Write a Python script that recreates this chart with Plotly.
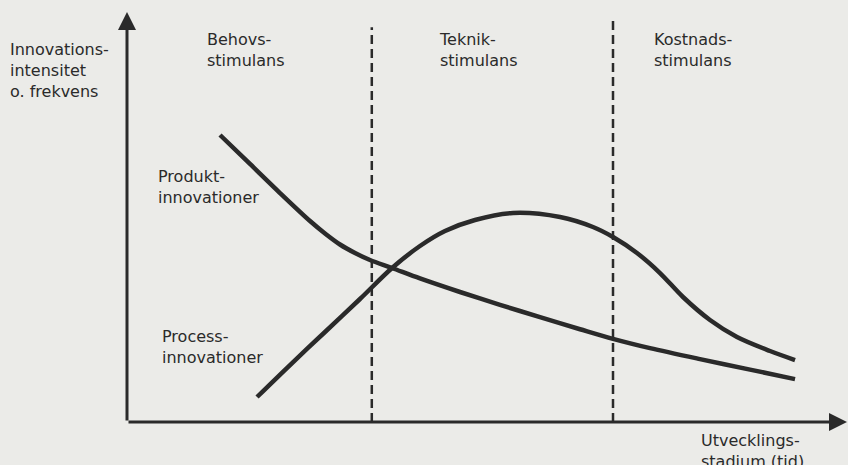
import plotly.graph_objects as go

# ---- data (abstract units: development stage 0-100, intensity 0-100) ----
produkt_x = [12.92, 17.08, 21.25, 25.42, 27.5, 29.58, 31.67, 33.75, 36.81, 40.69, 46.25,
             51.81, 57.36, 62.92, 67.5, 72.64, 79.58, 86.53, 92.78]
produkt_y = [70.0, 62.93, 55.85, 49.02, 45.98, 43.29, 41.22, 39.51, 37.56, 35.02, 31.71,
             28.59, 25.56, 22.63, 20.29, 18.02, 15.34, 12.78, 10.46]

process_x = [18.06, 22.64, 27.5, 32.36, 36.81, 40.69, 44.17, 48.33, 53.61, 60.14, 64.72,
             67.5, 70.83, 74.03, 77.22, 80.97, 84.72, 89.31, 92.78]
process_y = [6.10, 13.90, 21.95, 30.0, 37.56, 42.93, 46.59, 49.27, 50.98, 50.0, 47.56,
             45.12, 41.22, 36.34, 30.49, 24.88, 20.73, 17.32, 15.12]

phase_bounds = [34.0, 67.5]
phase_tops = [96.3, 98.0]

phase_labels = ["Behovs-<br>stimulans", "Teknik-<br>stimulans", "Kostnads-<br>stimulans"]
y_title = "Innovations-<br>intensitet<br>o. frekvens"
x_title = "Utvecklings-<br>stadium (tid)"
curve_labels = ["Produkt-<br>innovationer", "Process-<br>innovationer"]

# ---- layout geometry (pixels) ----
W, H = 848, 465
L, R, T, B = 127, 1, 12, 43
PW, PH = W - L - R, H - T - B


def px(xp):
    return (xp - L) / PW


def py(yp):
    return (H - B - yp) / PH


INK = "#2a2a2a"
BG = "#ebebe8"
FONT = "DejaVu Sans"

fig = go.Figure()

for xb, yt in zip(phase_bounds, phase_tops):
    fig.add_trace(go.Scatter(x=[xb, xb], y=[0, yt], mode="lines",
                             line=dict(color=INK, width=2.5, dash="9px,5px"),
                             hoverinfo="skip", showlegend=False))

fig.add_trace(go.Scatter(x=produkt_x, y=produkt_y, mode="lines",
                         line=dict(color=INK, width=4.5, shape="spline", smoothing=0.9),
                         showlegend=False))
fig.add_trace(go.Scatter(x=process_x, y=process_y, mode="lines",
                         line=dict(color=INK, width=4.5, shape="spline", smoothing=0.9),
                         showlegend=False))

annotations = []
# axes with arrowheads
annotations.append(dict(x=0, y=100, ax=0, ay=0, xref="x", yref="y", axref="x", ayref="y",
                        text="", showarrow=True, arrowhead=2, arrowsize=1.2, arrowwidth=3,
                        arrowcolor=INK, standoff=0, startstandoff=0))
annotations.append(dict(x=100, y=0, ax=0, ay=0, xref="x", yref="y", axref="x", ayref="y",
                        text="", showarrow=True, arrowhead=2, arrowsize=1.2, arrowwidth=3,
                        arrowcolor=INK, standoff=0, startstandoff=0))


def label(text, xp, yp):
    annotations.append(dict(x=px(xp), y=py(yp), xref="paper", yref="paper", text=text,
                            showarrow=False, xanchor="left", yanchor="middle", align="left",
                            font=dict(family=FONT, size=16, color=INK)))


label(y_title, 8, 70)
label(phase_labels[0], 205, 50)
label(phase_labels[1], 437, 50)
label(phase_labels[2], 652, 50)
label(curve_labels[0], 156, 187)
label(curve_labels[1], 160, 347)
label(x_title, 699, 451)

fig.update_layout(
    width=W, height=H,
    margin=dict(l=L, r=R, t=T, b=B, pad=0),
    paper_bgcolor=BG, plot_bgcolor=BG,
    xaxis=dict(range=[0, 100], visible=False, fixedrange=True),
    yaxis=dict(range=[0, 100], visible=False, fixedrange=True),
    annotations=annotations,
    showlegend=False,
)

fig.write_html("out.html", config={"displayModeBar": False},
               post_script="document.body.style.margin='0';document.body.style.overflow='hidden';")
